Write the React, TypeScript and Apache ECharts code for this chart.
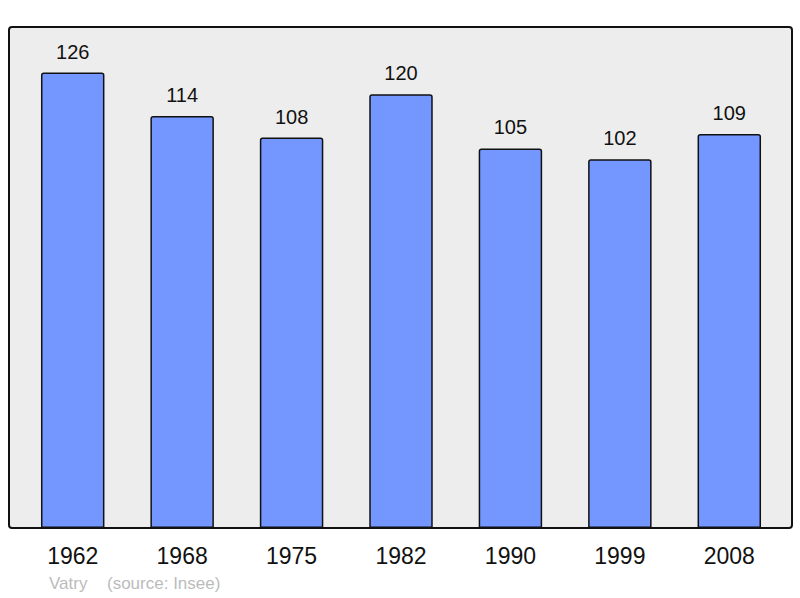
import React, { useEffect, useRef } from 'react'
import * as echarts from 'echarts'

const years = ['1962', '1968', '1975', '1982', '1990', '1999', '2008']
const population = [126, 114, 108, 120, 105, 102, 109]
const commune = 'Vatry'
const source = '(source: Insee)'

const App: React.FC = () => {
  const chartRef = useRef<HTMLDivElement>(null)

  useEffect(() => {
    if (!chartRef.current) return
    document.body.style.margin = '0'
    const chart = echarts.init(chartRef.current, null, { renderer: 'svg' })

    const option = {
      animation: false,
      textStyle: { fontFamily: 'Liberation Sans, Arial, sans-serif' },
      graphic: [
        {
          type: 'rect',
          z: -10,
          shape: { x: 9, y: 27, width: 783, height: 501, r: 3 },
          style: { fill: '#ededed', stroke: '#111', lineWidth: 2 }
        },
        {
          type: 'text',
          left: 49,
          top: 575,
          style: { text: commune, fill: '#bbbbbb', fontSize: 17, fontFamily: 'Liberation Sans, Arial, sans-serif' }
        },
        {
          type: 'text',
          left: 107,
          top: 575,
          style: { text: source, fill: '#bbbbbb', fontSize: 17, fontFamily: 'Liberation Sans, Arial, sans-serif' }
        }
      ],
      grid: { left: 18, right: 16, top: 27, bottom: 70 },
      xAxis: {
        type: 'category',
        data: years,
        axisLine: { show: false },
        axisTick: { show: false },
        axisLabel: { color: '#111', fontSize: 23, margin: 16 }
      },
      yAxis: {
        type: 'value',
        min: 0,
        max: 138.6,
        show: false,
        splitLine: { show: false }
      },
      series: [
        {
          type: 'bar',
          data: population,
          barWidth: '58%',
          itemStyle: {
            color: '#7396ff',
            borderColor: '#111',
            borderWidth: 1.5,
            borderRadius: [2, 2, 0, 0]
          },
          label: {
            show: true,
            position: 'top',
            distance: 11,
            color: '#111',
            fontSize: 20
          }
        }
      ]
    }

    chart.setOption(option)
    return () => chart.dispose()
  }, [])

  return <div ref={chartRef} style={{ width: 800, height: 598 }} />
}

export default App
